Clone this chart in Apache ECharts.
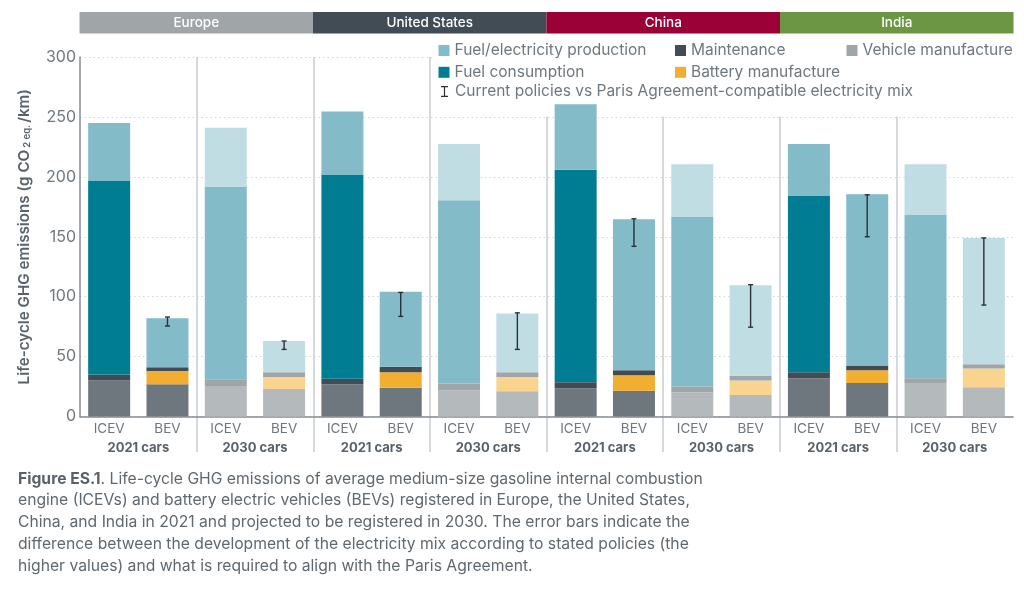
<!DOCTYPE html>
<html>
<head>
<meta charset="utf-8">
<title>Life-cycle GHG emissions</title>
<script src="https://cdn.jsdelivr.net/npm/echarts@6/dist/echarts.min.js"></script>
<style>
  html, body { margin: 0; padding: 0; background: #fff; }
  #chart-ctn { width: 1024px; height: 589px; }
</style>
</head>
<body>
<div id="chart-ctn"></div>
<script>
var regions = ['Europe', 'United States', 'China', 'India'];
var regionColors = ['#a0a5a8', '#414c55', '#9b0036', '#6c9644'];
var groups = ['2021 cars', '2030 cars', '2021 cars', '2030 cars', '2021 cars', '2030 cars', '2021 cars', '2030 cars'];
var cars = ['ICEV', 'BEV', 'ICEV', 'BEV', 'ICEV', 'BEV', 'ICEV', 'BEV', 'ICEV', 'BEV', 'ICEV', 'BEV', 'ICEV', 'BEV', 'ICEV', 'BEV'];

var vehicle = [30, 27, 25.5, 23, 27, 24, 22, 21, 23.5, 21.5, 20, 18, 32, 28, 28, 24.5];
var battery = [0, 11, 0, 10, 0, 13, 0, 12, 0, 13, 0, 12, 0, 10.5, 0, 15.5];
var maintenance = [5, 3, 5.5, 4, 4.5, 4.5, 5.5, 4, 5, 4, 5, 4, 5, 4, 4, 3.5];
var fuelUse = [162, 0, 161, 0, 170, 0, 153, 0, 177.5, 0, 142, 0, 147.5, 0, 136.5, 0];
var fuelProd = [48, 41, 49, 26, 53, 62.5, 47, 49, 54.5, 126, 43.5, 75.5, 43, 143, 42, 105.5];

var errIndex = [1, 3, 5, 7, 9, 11, 13, 15];
var errLow = [75.5, 56, 83.5, 56, 142, 74.5, 150, 93];
var errHigh = [83, 63, 103.5, 86.5, 165, 110, 185, 149];

var yTicks = { min: 0, max: 300, interval: 50 };

var grey = '#6f777e';
var font = 'Inter';

// the 2030 cars are the same colours, washed out
function tinted(values, color, light) {
  return values.map(function (v, i) {
    return { value: v, itemStyle: { color: i % 4 >= 2 ? light : color } };
  });
}

function stackSeries(name, values, color, light) {
  return {
    name: name,
    type: 'bar',
    stack: 'total',
    barWidth: 42,
    itemStyle: { color: color },
    data: tinted(values, color, light)
  };
}

function renderError(params, api) {
  var x = api.value(0);
  var top = api.coord([x, api.value(2)]);
  var bottom = api.coord([x, api.value(1)]);
  var style = { stroke: '#2b3136', lineWidth: 1.4, fill: null };
  function line(x1, y1, x2, y2) {
    return { type: 'line', shape: { x1: x1, y1: y1, x2: x2, y2: y2 }, style: style };
  }
  return {
    type: 'group',
    children: [
      line(top[0], top[1], bottom[0], bottom[1]),
      line(top[0] - 2.5, top[1], top[0] + 2.5, top[1]),
      line(bottom[0] - 2.5, bottom[1], bottom[0] + 2.5, bottom[1])
    ]
  };
}

var ERR_NAME = 'Current policies vs Paris Agreement-compatible electricity mix';
var I_BEAM = 'path://M0 0H7V1.3H4.1V9.7H7V11H0V9.7H2.9V1.3H0Z';

var legendText = { color: grey, fontFamily: font, fontSize: 15.5 };

function legendAt(left, top, names, gap) {
  return {
    left: left, top: top, orient: 'vertical', itemWidth: 11, itemHeight: 11, itemGap: gap,
    padding: 0, icon: 'rect', selectedMode: false, textStyle: legendText, data: names
  };
}

var caption = '{b|Figure ES.1}{n|. Life-cycle GHG emissions of average medium-size gasoline internal combustion}\n' +
  '{n|engine (ICEVs) and battery electric vehicles (BEVs) registered in Europe, the United States,}\n' +
  '{n|China, and India in 2021 and projected to be registered in 2030. The error bars indicate the}\n' +
  '{n|difference between the development of the electricity mix according to stated policies (the}\n' +
  '{n|higher values) and what is required to align with the Paris Agreement.}';

var chart = echarts.init(document.getElementById('chart-ctn'));

chart.setOption({
  animation: false,
  backgroundColor: '#fff',
  textStyle: { fontFamily: font },
  title: {
    left: 18, top: 468, padding: 0,
    text: caption,
    textStyle: {
      fontWeight: 400,
      rich: {
        b: { fontFamily: font, fontSize: 15.7, fontWeight: 700, color: '#59626a', lineHeight: 21.8 },
        n: { fontFamily: font, fontSize: 15.7, fontWeight: 400, color: '#5f686f', lineHeight: 21.8 }
      }
    }
  },
  legend: [
    legendAt(438.5, 42.5, ['Fuel/electricity production', 'Fuel consumption'], 5.8),
    legendAt(675, 42.5, ['Maintenance', 'Battery manufacture'], 5.8),
    legendAt(846.5, 42.5, [{ name: 'Vehicle manufacture', itemStyle: { color: '#a0a5a8' } }], 5.8),
    {
      left: 441, top: 83.5, itemWidth: 11, itemHeight: 11, padding: 0, selectedMode: false,
      textStyle: legendText,
      data: [{ name: ERR_NAME, icon: I_BEAM, itemStyle: { color: '#2b3136' } }]
    }
  ],
  // white panel behind the legend hides the gridlines, not the bars
  graphic: [{
    type: 'rect', z: 1, silent: true,
    shape: { x: 432, y: 40, width: 592, height: 76.5 },
    style: { fill: '#fff' }
  }],
  grid: [
    { left: 80, right: 11, top: 57, height: 359.5 },
    { left: 79.5, right: 10.5, top: 12, height: 21.5 },
    { left: 80, right: 11, top: 57, height: 395 }
  ],
  xAxis: [
    {
      type: 'category', gridIndex: 0, data: cars,
      axisLine: { lineStyle: { color: '#858c92', width: 1.5 } },
      axisTick: { show: false },
      axisLabel: { interval: 0, margin: 5, color: grey, fontSize: 13.5 }
    },
    {
      type: 'category', gridIndex: 0, position: 'bottom', data: groups,
      axisLine: { show: false },
      axisTick: { show: false },
      axisLabel: { interval: 0, margin: 25, color: '#59626a', fontSize: 13, fontWeight: 700 }
    },
    {
      type: 'category', gridIndex: 1, data: regions, show: false
    },
    {
      type: 'category', gridIndex: 2, data: groups,
      axisLine: { show: false },
      axisTick: { show: false },
      axisLabel: { show: false },
      splitLine: {
        show: true, interval: 0, showMinLine: false, showMaxLine: false,
        lineStyle: { color: '#c9cdcf', width: 1.5 }
      }
    }
  ],
  yAxis: [
    {
      type: 'value', gridIndex: 0,
      min: yTicks.min, max: yTicks.max, interval: yTicks.interval,
      name: '{t|Life-cycle GHG emissions (g CO}{s|2 eq.}{t|/km)}',
      nameLocation: 'middle', nameRotate: 90, nameGap: 48,
      nameTextStyle: {
        rich: {
          t: { fontFamily: font, fontSize: 15.2, fontWeight: 600, color: '#59626a' },
          s: { fontFamily: font, fontSize: 9.5, fontWeight: 600, color: '#59626a', verticalAlign: 'bottom', padding: [6, 2, 0, 2] }
        }
      },
      axisLine: { show: true, lineStyle: { color: '#858c92', width: 1.5 } },
      axisTick: { show: false },
      axisLabel: { margin: 4, color: grey, fontSize: 16 },
      splitLine: { lineStyle: { color: '#d4d7d9', type: [1.5, 3], width: 1 } }
    },
    { type: 'value', gridIndex: 1, min: 0, max: 1, show: false },
    { type: 'value', gridIndex: 2, min: 0, max: 1, show: false }
  ],
  series: [
    stackSeries('Vehicle manufacture', vehicle, '#6f777e', '#b4b9bb'),
    stackSeries('Battery manufacture', battery, '#f2ae30', '#f8d48e'),
    stackSeries('Maintenance', maintenance, '#414c55', '#a0a5a8'),
    stackSeries('Fuel consumption', fuelUse, '#007d93', '#83bcc8'),
    stackSeries('Fuel/electricity production', fuelProd, '#83bcc8', '#bfdde2'),
    {
      name: ERR_NAME,
      type: 'custom',
      z: 5,
      renderItem: renderError,
      itemStyle: { color: '#2b3136' },
      encode: { x: 0, y: [1, 2] },
      data: errIndex.map(function (x, i) { return [x, errLow[i], errHigh[i]]; })
    },
    {
      name: 'regions',
      type: 'bar',
      xAxisIndex: 2,
      yAxisIndex: 1,
      barWidth: '100%',
      silent: true,
      label: {
        show: true, position: 'inside', color: '#fff', fontFamily: font, fontSize: 13.5, fontWeight: 500,
        formatter: '{b}'
      },
      data: regions.map(function (r, i) {
        return { value: 1, itemStyle: { color: regionColors[i] } };
      })
    }
  ]
});
</script>
</body>
</html>
